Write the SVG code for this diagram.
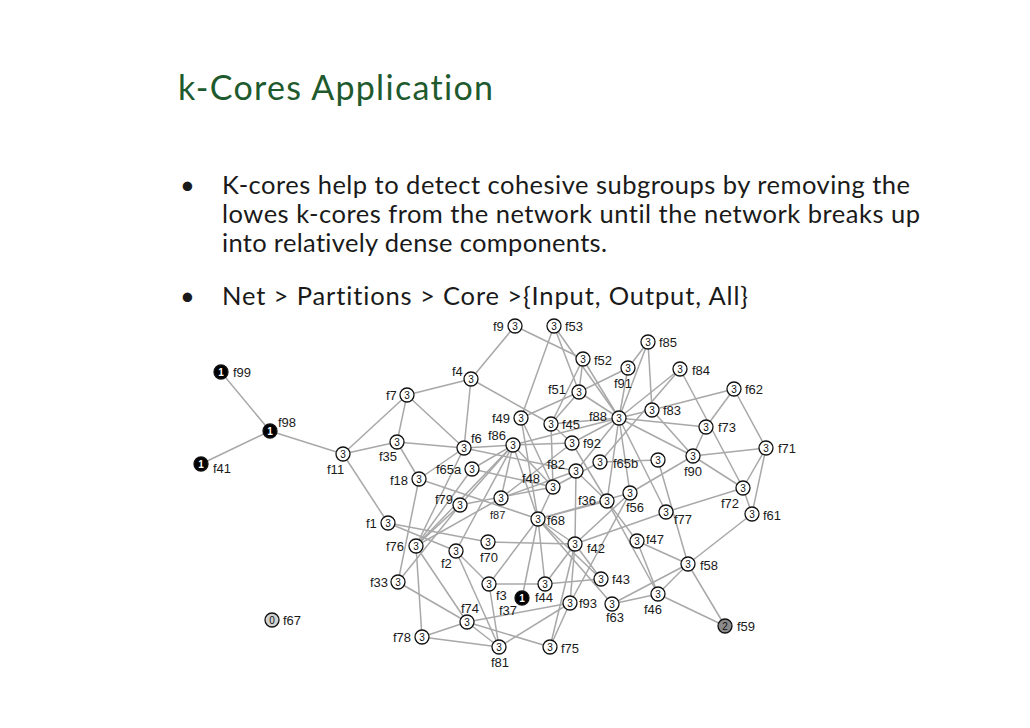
<svg xmlns="http://www.w3.org/2000/svg" width="1030" height="728" viewBox="0 0 1030 728">
<style>
.title{font-family:"Lato","Liberation Sans",sans-serif;font-size:34px;fill:#1e5a2d;font-variant-ligatures:none}
.body{font-family:"Lato","Liberation Sans",sans-serif;font-size:25.5px;fill:#1a1a1a;font-variant-ligatures:none}
.e line{stroke:#a8a8a8;stroke-width:1.5}
.n circle{fill:#fff;stroke:#111;stroke-width:1.3}
.num{font-family:"Liberation Sans",Arial,sans-serif;font-size:10px;text-anchor:middle;fill:#111}
.lbl{font-family:"Liberation Sans",Arial,sans-serif;font-size:13px;fill:#1a1a1a}
.k1 circle{fill:#000}
.k1 .num{fill:#fff;font-weight:bold}
.k2 circle{fill:#8a8a8a}
.k0 circle{fill:#d2d2d2}
</style>
<rect width="1030" height="728" fill="#fff"/>
<g id="heading">
<text class="title" x="178" y="100" textLength="315">k-Cores Application</text>
<text class="body" x="180" y="194">•</text>
<text class="body" x="222" y="194" textLength="688">K-cores help to detect cohesive subgroups by removing the</text>
<text class="body" x="222" y="223" textLength="698">lowes k-cores from the network until the network breaks up</text>
<text class="body" x="222" y="252" textLength="385">into relatively dense components.</text>
<text class="body" x="180" y="305">•</text>
<text class="body" x="222" y="305" textLength="526">Net &gt; Partitions &gt; Core &gt;{Input, Output, All}</text>
</g>
<g id="connectors" class="e">
<line x1="221" y1="372" x2="270" y2="431"/>
<line x1="270" y1="431" x2="201" y2="464"/>
<line x1="270" y1="431" x2="343" y2="454"/>
<line x1="343" y1="454" x2="407" y2="395"/>
<line x1="343" y1="454" x2="397" y2="442"/>
<line x1="343" y1="454" x2="388" y2="523"/>
<line x1="407" y1="395" x2="471" y2="379"/>
<line x1="407" y1="395" x2="397" y2="442"/>
<line x1="407" y1="395" x2="464" y2="448"/>
<line x1="471" y1="379" x2="515" y2="326"/>
<line x1="471" y1="379" x2="464" y2="448"/>
<line x1="471" y1="379" x2="551" y2="424"/>
<line x1="397" y1="442" x2="464" y2="448"/>
<line x1="397" y1="442" x2="419" y2="479"/>
<line x1="515" y1="326" x2="583" y2="359"/>
<line x1="554" y1="326" x2="521" y2="418"/>
<line x1="554" y1="326" x2="579" y2="392"/>
<line x1="554" y1="326" x2="619" y2="418"/>
<line x1="583" y1="359" x2="579" y2="392"/>
<line x1="583" y1="359" x2="551" y2="424"/>
<line x1="583" y1="359" x2="619" y2="418"/>
<line x1="648" y1="342" x2="628" y2="368"/>
<line x1="648" y1="342" x2="619" y2="418"/>
<line x1="648" y1="342" x2="652" y2="410"/>
<line x1="628" y1="368" x2="619" y2="418"/>
<line x1="628" y1="368" x2="579" y2="392"/>
<line x1="521" y1="418" x2="579" y2="392"/>
<line x1="680" y1="369" x2="619" y2="418"/>
<line x1="680" y1="369" x2="600" y2="462"/>
<line x1="680" y1="369" x2="743" y2="488"/>
<line x1="734" y1="389" x2="652" y2="410"/>
<line x1="734" y1="389" x2="706" y2="427"/>
<line x1="734" y1="389" x2="766" y2="448"/>
<line x1="652" y1="410" x2="619" y2="418"/>
<line x1="652" y1="410" x2="693" y2="456"/>
<line x1="619" y1="418" x2="706" y2="427"/>
<line x1="619" y1="418" x2="693" y2="456"/>
<line x1="706" y1="427" x2="693" y2="456"/>
<line x1="693" y1="456" x2="766" y2="448"/>
<line x1="766" y1="448" x2="743" y2="488"/>
<line x1="766" y1="448" x2="752" y2="514"/>
<line x1="743" y1="488" x2="752" y2="514"/>
<line x1="752" y1="514" x2="688" y2="564"/>
<line x1="693" y1="456" x2="743" y2="488"/>
<line x1="630" y1="493" x2="693" y2="456"/>
<line x1="600" y1="462" x2="658" y2="460"/>
<line x1="658" y1="460" x2="688" y2="564"/>
<line x1="619" y1="418" x2="551" y2="424"/>
<line x1="619" y1="418" x2="513" y2="445"/>
<line x1="619" y1="418" x2="572" y2="443"/>
<line x1="619" y1="418" x2="576" y2="471"/>
<line x1="619" y1="418" x2="607" y2="501"/>
<line x1="619" y1="418" x2="666" y2="512"/>
<line x1="619" y1="418" x2="630" y2="493"/>
<line x1="464" y1="448" x2="513" y2="445"/>
<line x1="464" y1="448" x2="576" y2="471"/>
<line x1="464" y1="448" x2="419" y2="479"/>
<line x1="464" y1="448" x2="416" y2="546"/>
<line x1="513" y1="445" x2="572" y2="443"/>
<line x1="513" y1="445" x2="472" y2="469"/>
<line x1="513" y1="445" x2="460" y2="505"/>
<line x1="513" y1="445" x2="416" y2="546"/>
<line x1="513" y1="445" x2="501" y2="498"/>
<line x1="513" y1="445" x2="553" y2="487"/>
<line x1="513" y1="445" x2="538" y2="519"/>
<line x1="521" y1="418" x2="538" y2="519"/>
<line x1="521" y1="418" x2="553" y2="487"/>
<line x1="551" y1="424" x2="572" y2="443"/>
<line x1="551" y1="424" x2="553" y2="487"/>
<line x1="472" y1="469" x2="553" y2="487"/>
<line x1="472" y1="469" x2="416" y2="546"/>
<line x1="460" y1="505" x2="416" y2="546"/>
<line x1="460" y1="505" x2="398" y2="582"/>
<line x1="460" y1="505" x2="553" y2="487"/>
<line x1="501" y1="498" x2="576" y2="471"/>
<line x1="501" y1="498" x2="416" y2="546"/>
<line x1="419" y1="479" x2="538" y2="519"/>
<line x1="419" y1="479" x2="398" y2="582"/>
<line x1="553" y1="487" x2="538" y2="519"/>
<line x1="600" y1="462" x2="553" y2="487"/>
<line x1="576" y1="471" x2="575" y2="544"/>
<line x1="576" y1="471" x2="607" y2="501"/>
<line x1="607" y1="501" x2="637" y2="541"/>
<line x1="607" y1="501" x2="538" y2="519"/>
<line x1="630" y1="493" x2="538" y2="519"/>
<line x1="630" y1="493" x2="575" y2="544"/>
<line x1="630" y1="493" x2="570" y2="603"/>
<line x1="666" y1="512" x2="743" y2="488"/>
<line x1="666" y1="512" x2="575" y2="544"/>
<line x1="637" y1="541" x2="688" y2="564"/>
<line x1="637" y1="541" x2="658" y2="594"/>
<line x1="688" y1="564" x2="612" y2="604"/>
<line x1="688" y1="564" x2="658" y2="594"/>
<line x1="688" y1="564" x2="725" y2="626"/>
<line x1="658" y1="594" x2="612" y2="604"/>
<line x1="658" y1="594" x2="725" y2="626"/>
<line x1="607" y1="501" x2="658" y2="594"/>
<line x1="488" y1="542" x2="575" y2="544"/>
<line x1="388" y1="523" x2="488" y2="542"/>
<line x1="388" y1="523" x2="456" y2="551"/>
<line x1="538" y1="519" x2="575" y2="544"/>
<line x1="538" y1="519" x2="545" y2="584"/>
<line x1="538" y1="519" x2="522" y2="598"/>
<line x1="538" y1="519" x2="489" y2="584"/>
<line x1="538" y1="519" x2="601" y2="579"/>
<line x1="538" y1="519" x2="612" y2="604"/>
<line x1="575" y1="544" x2="545" y2="584"/>
<line x1="575" y1="544" x2="570" y2="603"/>
<line x1="575" y1="544" x2="550" y2="647"/>
<line x1="545" y1="584" x2="489" y2="584"/>
<line x1="545" y1="584" x2="601" y2="579"/>
<line x1="456" y1="551" x2="489" y2="584"/>
<line x1="456" y1="551" x2="499" y2="647"/>
<line x1="456" y1="551" x2="513" y2="445"/>
<line x1="570" y1="603" x2="467" y2="622"/>
<line x1="570" y1="603" x2="550" y2="647"/>
<line x1="499" y1="647" x2="570" y2="603"/>
<line x1="467" y1="622" x2="398" y2="582"/>
<line x1="467" y1="622" x2="416" y2="546"/>
<line x1="467" y1="622" x2="422" y2="637"/>
<line x1="467" y1="622" x2="499" y2="647"/>
<line x1="467" y1="622" x2="550" y2="647"/>
<line x1="422" y1="637" x2="416" y2="546"/>
<line x1="422" y1="637" x2="499" y2="647"/>
<line x1="489" y1="584" x2="499" y2="647"/>
<line x1="575" y1="544" x2="601" y2="579"/>
<line x1="572" y1="443" x2="501" y2="498"/>
<line x1="572" y1="443" x2="607" y2="501"/>
<line x1="579" y1="392" x2="619" y2="418"/>
<line x1="579" y1="392" x2="551" y2="424"/>
</g>
<g id="n-f99" class="n k1"><circle cx="221" cy="372" r="7"/><text class="num" x="221" y="375.5">1</text><text class="lbl" x="233" y="377">f99</text></g>
<g id="n-f98" class="n k1"><circle cx="270" cy="431" r="7"/><text class="num" x="270" y="434.5">1</text><text class="lbl" x="278" y="427">f98</text></g>
<g id="n-f41" class="n k1"><circle cx="201" cy="464" r="7"/><text class="num" x="201" y="467.5">1</text><text class="lbl" x="213" y="473">f41</text></g>
<g id="n-f11" class="n"><circle cx="343" cy="454" r="7"/><text class="num" x="343" y="457.5">3</text><text class="lbl" x="327" y="474">f11</text></g>
<g id="n-f7" class="n"><circle cx="407" cy="395" r="7"/><text class="num" x="407" y="398.5">3</text><text class="lbl" x="386" y="400">f7</text></g>
<g id="n-f35" class="n"><circle cx="397" cy="442" r="7"/><text class="num" x="397" y="445.5">3</text><text class="lbl" x="379" y="461">f35</text></g>
<g id="n-f4" class="n"><circle cx="471" cy="379" r="7"/><text class="num" x="471" y="382.5">3</text><text class="lbl" x="452" y="376">f4</text></g>
<g id="n-f9" class="n"><circle cx="515" cy="326" r="7"/><text class="num" x="515" y="329.5">3</text><text class="lbl" x="493" y="331">f9</text></g>
<g id="n-f53" class="n"><circle cx="554" cy="326" r="7"/><text class="num" x="554" y="329.5">3</text><text class="lbl" x="565" y="331">f53</text></g>
<g id="n-f52" class="n"><circle cx="583" cy="359" r="7"/><text class="num" x="583" y="362.5">3</text><text class="lbl" x="594" y="365">f52</text></g>
<g id="n-f85" class="n"><circle cx="648" cy="342" r="7"/><text class="num" x="648" y="345.5">3</text><text class="lbl" x="659" y="347">f85</text></g>
<g id="n-f91" class="n"><circle cx="628" cy="368" r="7"/><text class="num" x="628" y="371.5">3</text><text class="lbl" x="614" y="388">f91</text></g>
<g id="n-f84" class="n"><circle cx="680" cy="369" r="7"/><text class="num" x="680" y="372.5">3</text><text class="lbl" x="692" y="375">f84</text></g>
<g id="n-f62" class="n"><circle cx="734" cy="389" r="7"/><text class="num" x="734" y="392.5">3</text><text class="lbl" x="745" y="394">f62</text></g>
<g id="n-f51" class="n"><circle cx="579" cy="392" r="7"/><text class="num" x="579" y="395.5">3</text><text class="lbl" x="548" y="394">f51</text></g>
<g id="n-f49" class="n"><circle cx="521" cy="418" r="7"/><text class="num" x="521" y="421.5">3</text><text class="lbl" x="492" y="423">f49</text></g>
<g id="n-f45" class="n"><circle cx="551" cy="424" r="7"/><text class="num" x="551" y="427.5">3</text><text class="lbl" x="562" y="429">f45</text></g>
<g id="n-f88" class="n"><circle cx="619" cy="418" r="7"/><text class="num" x="619" y="421.5">3</text><text class="lbl" x="589" y="421">f88</text></g>
<g id="n-f83" class="n"><circle cx="652" cy="410" r="7"/><text class="num" x="652" y="413.5">3</text><text class="lbl" x="663" y="415">f83</text></g>
<g id="n-f73" class="n"><circle cx="706" cy="427" r="7"/><text class="num" x="706" y="430.5">3</text><text class="lbl" x="718" y="432">f73</text></g>
<g id="n-f71" class="n"><circle cx="766" cy="448" r="7"/><text class="num" x="766" y="451.5">3</text><text class="lbl" x="778" y="453">f71</text></g>
<g id="n-f6" class="n"><circle cx="464" cy="448" r="7"/><text class="num" x="464" y="451.5">3</text><text class="lbl" x="471" y="443">f6</text></g>
<g id="n-f86" class="n"><circle cx="513" cy="445" r="7"/><text class="num" x="513" y="448.5">3</text><text class="lbl" x="488" y="440">f86</text></g>
<g id="n-f92" class="n"><circle cx="572" cy="443" r="7"/><text class="num" x="572" y="446.5">3</text><text class="lbl" x="583" y="448">f92</text></g>
<g id="n-f65a" class="n"><circle cx="472" cy="469" r="7"/><text class="num" x="472" y="472.5">3</text><text class="lbl" x="436" y="474">f65a</text></g>
<g id="n-f18" class="n"><circle cx="419" cy="479" r="7"/><text class="num" x="419" y="482.5">3</text><text class="lbl" x="390" y="485">f18</text></g>
<g id="n-f82" class="n"><circle cx="576" cy="471" r="7"/><text class="num" x="576" y="474.5">3</text><text class="lbl" x="547" y="469">f82</text></g>
<g id="n-f48" class="n"><circle cx="553" cy="487" r="7"/><text class="num" x="553" y="490.5">3</text><text class="lbl" x="522" y="483">f48</text></g>
<g id="n-f65b" class="n"><circle cx="600" cy="462" r="7"/><text class="num" x="600" y="465.5">3</text><text class="lbl" x="613" y="468">f65b</text></g>
<g id="n-u1" class="n"><circle cx="658" cy="460" r="7"/><text class="num" x="658" y="463.5">3</text></g>
<g id="n-f90" class="n"><circle cx="693" cy="456" r="7"/><text class="num" x="693" y="459.5">3</text><text class="lbl" x="684" y="476">f90</text></g>
<g id="n-f72" class="n"><circle cx="743" cy="488" r="7"/><text class="num" x="743" y="491.5">3</text><text class="lbl" x="721" y="508">f72</text></g>
<g id="n-f79" class="n"><circle cx="460" cy="505" r="7"/><text class="num" x="460" y="508.5">3</text><text class="lbl" x="435" y="504">f79</text></g>
<g id="n-f87" class="n"><circle cx="501" cy="498" r="7"/><text class="num" x="501" y="501.5">3</text><text class="lbl" x="490" y="519" style="font-size:11px">f87</text></g>
<g id="n-f68" class="n"><circle cx="538" cy="519" r="7"/><text class="num" x="538" y="522.5">3</text><text class="lbl" x="547" y="525">f68</text></g>
<g id="n-f36" class="n"><circle cx="607" cy="501" r="7"/><text class="num" x="607" y="504.5">3</text><text class="lbl" x="578" y="505">f36</text></g>
<g id="n-f56" class="n"><circle cx="630" cy="493" r="7"/><text class="num" x="630" y="496.5">3</text><text class="lbl" x="626" y="512">f56</text></g>
<g id="n-f77" class="n"><circle cx="666" cy="512" r="7"/><text class="num" x="666" y="515.5">3</text><text class="lbl" x="674" y="524">f77</text></g>
<g id="n-f61" class="n"><circle cx="752" cy="514" r="7"/><text class="num" x="752" y="517.5">3</text><text class="lbl" x="763" y="520">f61</text></g>
<g id="n-f1" class="n"><circle cx="388" cy="523" r="7"/><text class="num" x="388" y="526.5">3</text><text class="lbl" x="366" y="528">f1</text></g>
<g id="n-f76" class="n"><circle cx="416" cy="546" r="7"/><text class="num" x="416" y="549.5">3</text><text class="lbl" x="386" y="551">f76</text></g>
<g id="n-f2" class="n"><circle cx="456" cy="551" r="7"/><text class="num" x="456" y="554.5">3</text><text class="lbl" x="441" y="568">f2</text></g>
<g id="n-f70" class="n"><circle cx="488" cy="542" r="7"/><text class="num" x="488" y="545.5">3</text><text class="lbl" x="480" y="562">f70</text></g>
<g id="n-f42" class="n"><circle cx="575" cy="544" r="7"/><text class="num" x="575" y="547.5">3</text><text class="lbl" x="587" y="553">f42</text></g>
<g id="n-f47" class="n"><circle cx="637" cy="541" r="7"/><text class="num" x="637" y="544.5">3</text><text class="lbl" x="646" y="544">f47</text></g>
<g id="n-f58" class="n"><circle cx="688" cy="564" r="7"/><text class="num" x="688" y="567.5">3</text><text class="lbl" x="700" y="570">f58</text></g>
<g id="n-f33" class="n"><circle cx="398" cy="582" r="7"/><text class="num" x="398" y="585.5">3</text><text class="lbl" x="370" y="587">f33</text></g>
<g id="n-f3" class="n"><circle cx="489" cy="584" r="7"/><text class="num" x="489" y="587.5">3</text><text class="lbl" x="496" y="600">f3</text></g>
<g id="n-f44" class="n"><circle cx="545" cy="584" r="7"/><text class="num" x="545" y="587.5">3</text><text class="lbl" x="535" y="602">f44</text></g>
<g id="n-f43" class="n"><circle cx="601" cy="579" r="7"/><text class="num" x="601" y="582.5">3</text><text class="lbl" x="612" y="584">f43</text></g>
<g id="n-f37" class="n k1"><circle cx="522" cy="598" r="7"/><text class="num" x="522" y="601.5">1</text><text class="lbl" x="499" y="615">f37</text></g>
<g id="n-f93" class="n"><circle cx="570" cy="603" r="7"/><text class="num" x="570" y="606.5">3</text><text class="lbl" x="579" y="608">f93</text></g>
<g id="n-f63" class="n"><circle cx="612" cy="604" r="7"/><text class="num" x="612" y="607.5">3</text><text class="lbl" x="606" y="622">f63</text></g>
<g id="n-f46" class="n"><circle cx="658" cy="594" r="7"/><text class="num" x="658" y="597.5">3</text><text class="lbl" x="644" y="614">f46</text></g>
<g id="n-f67" class="n k0"><circle cx="272" cy="620" r="7"/><text class="num" x="272" y="623.5">0</text><text class="lbl" x="283" y="625">f67</text></g>
<g id="n-f74" class="n"><circle cx="467" cy="622" r="7"/><text class="num" x="467" y="625.5">3</text><text class="lbl" x="461" y="613">f74</text></g>
<g id="n-f78" class="n"><circle cx="422" cy="637" r="7"/><text class="num" x="422" y="640.5">3</text><text class="lbl" x="393" y="642">f78</text></g>
<g id="n-f81" class="n"><circle cx="499" cy="647" r="7"/><text class="num" x="499" y="650.5">3</text><text class="lbl" x="491" y="667">f81</text></g>
<g id="n-f75" class="n"><circle cx="550" cy="647" r="7"/><text class="num" x="550" y="650.5">3</text><text class="lbl" x="561" y="653">f75</text></g>
<g id="n-f59" class="n k2"><circle cx="725" cy="626" r="7"/><text class="num" x="725" y="629.5">2</text><text class="lbl" x="737" y="631">f59</text></g>
</svg>
